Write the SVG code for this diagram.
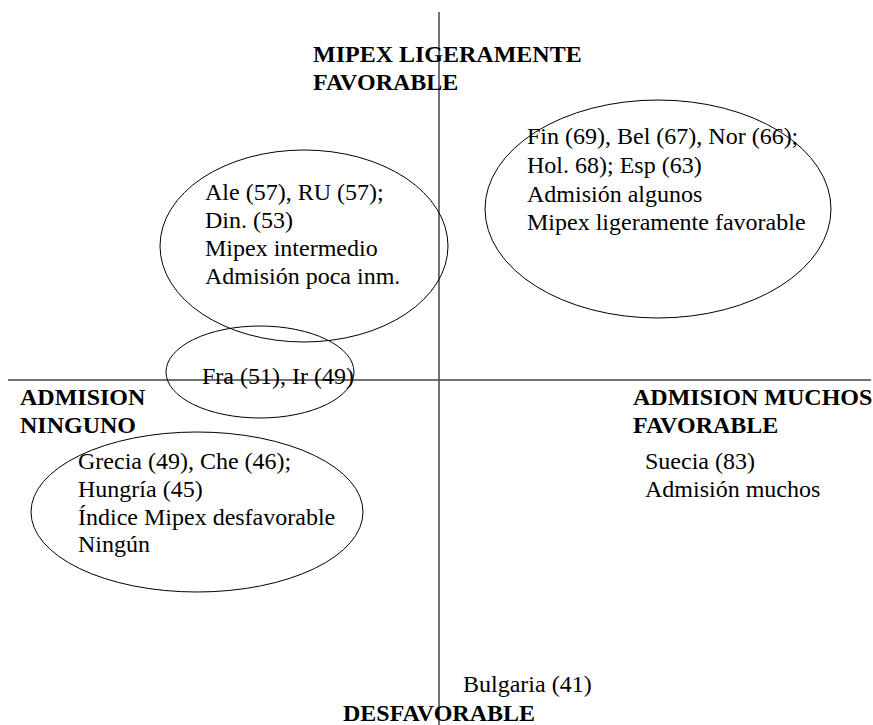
<svg xmlns="http://www.w3.org/2000/svg" width="873" height="725" viewBox="0 0 873 725">
<style>
.t{font-family:"Liberation Serif","Times New Roman",serif;font-size:24px;fill:#000}
.b{font-weight:bold}
.e{fill:none;stroke:#000;stroke-width:1}
.ax{stroke:#444;stroke-width:1.5}
</style>
<rect width="873" height="725" fill="#fff"/>
<g id="axes">
<line class="ax" x1="439" y1="12" x2="439" y2="725"/>
<line class="ax" x1="8" y1="380" x2="871" y2="380"/>
</g>
<g id="label-top"><text class="t b" x="313" y="62">MIPEX LIGERAMENTE</text><text class="t b" x="313" y="90">FAVORABLE</text></g>
<g id="label-left"><text class="t b" x="20" y="405">ADMISION</text><text class="t b" x="20" y="433">NINGUNO</text></g>
<g id="label-right"><text class="t b" x="633" y="405">ADMISION MUCHOS</text><text class="t b" x="633" y="433">FAVORABLE</text></g>
<g id="label-bottom"><text class="t b" x="343" y="721">DESFAVORABLE</text></g>
<g id="node-fin">
<ellipse class="e" cx="658" cy="209" rx="173" ry="109"/>
<text class="t" x="527" y="144">Fin (69), Bel (67), Nor (66);</text>
<text class="t" x="527" y="173">Hol. 68); Esp (63)</text>
<text class="t" x="527" y="202">Admisión algunos</text>
<text class="t" x="527" y="230">Mipex ligeramente favorable</text>
</g>
<g id="node-ale">
<ellipse class="e" cx="304" cy="246" rx="144" ry="96"/>
<text class="t" x="205" y="200">Ale (57), RU (57);</text>
<text class="t" x="205" y="228">Din. (53)</text>
<text class="t" x="205" y="256">Mipex intermedio</text>
<text class="t" x="205" y="284">Admisión poca inm.</text>
</g>
<g id="node-fra">
<ellipse class="e" cx="260" cy="372" rx="94" ry="46"/>
<text class="t" x="202" y="384">Fra (51), Ir (49)</text>
</g>
<g id="node-grecia">
<ellipse class="e" cx="197" cy="512" rx="166" ry="80"/>
<text class="t" x="78" y="469">Grecia (49), Che (46);</text>
<text class="t" x="78" y="497">Hungría (45)</text>
<text class="t" x="78" y="525">Índice Mipex desfavorable</text>
<text class="t" x="78" y="552">Ningún</text>
</g>
<g id="node-suecia">
<text class="t" x="645" y="469">Suecia (83)</text>
<text class="t" x="645" y="497">Admisión muchos</text>
</g>
<g id="node-bulgaria">
<text class="t" x="463" y="692">Bulgaria (41)</text>
</g>
</svg>
